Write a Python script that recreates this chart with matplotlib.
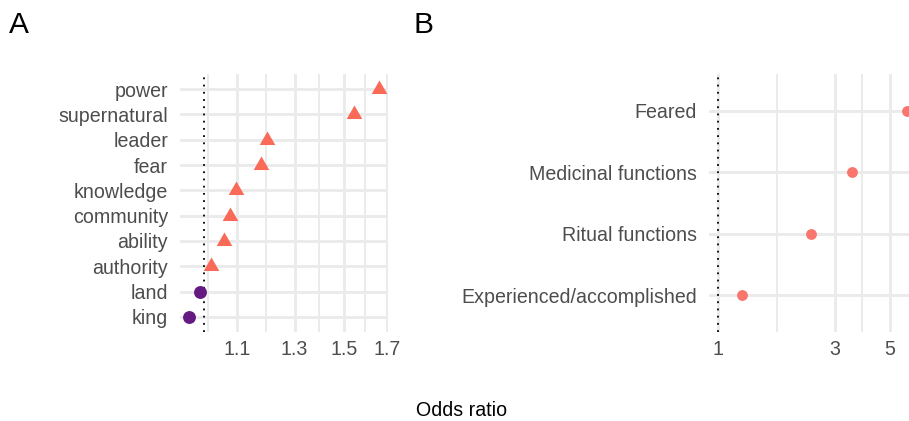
import numpy as np
import matplotlib
matplotlib.use("Agg")
import matplotlib.pyplot as plt
from matplotlib.ticker import FixedLocator, NullFormatter, FixedFormatter

plt.rcParams['font.family'] = ['Liberation Sans', 'DejaVu Sans']

# Panel A: word-level odds ratios (bottom to top)
words = ['king', 'land', 'authority', 'ability', 'community',
         'knowledge', 'fear', 'leader', 'supernatural', 'power']
word_or = [0.958, 0.987, 1.020, 1.058, 1.079, 1.097, 1.179, 1.200, 1.547, 1.659]
a_ticks = [1.1, 1.3, 1.5, 1.7]
a_tick_labels = ['1.1', '1.3', '1.5', '1.7']

# Panel B: trait odds ratios (bottom to top)
traits = ['Experienced/accomplished', 'Ritual functions',
          'Medicinal functions', 'Feared']
trait_or = [1.25, 2.39, 3.50, 5.87]
b_ticks = [1, 3, 5]
b_tick_labels = ['1', '3', '5']

W, H = 909, 421
fig = plt.figure(figsize=(W / 100, H / 100), dpi=100)

grid_col = '#EBEBEB'
txt_col = '#4D4D4D'
up_col = '#F96B58'
down_col = '#641A80'
b_col = '#F8766D'

# equilateral triangle, centred on centroid (like ggplot shape 17)
tri = [(0, 0.577), (-0.5, -0.289), (0.5, -0.289), (0, 0.577)]


def log_limits(vals, ref=None):
    lv = np.log(np.array(vals, dtype=float))
    lo, hi = lv.min(), lv.max()
    if ref is not None:
        lo, hi = min(lo, np.log(ref)), max(hi, np.log(ref))
    pad = 0.05 * (hi - lo)
    return np.exp(lo - pad), np.exp(hi + pad)


def minor_breaks(major, lims):
    lm = np.log(major)
    mids = list((lm[:-1] + lm[1:]) / 2)
    d0 = (lm[1] - lm[0]) / 2
    d1 = (lm[-1] - lm[-2]) / 2
    mids = [lm[0] - d0] + mids + [lm[-1] + d1]
    return [np.exp(m) for m in mids if np.log(lims[0]) <= m <= np.log(lims[1])]


def style(ax, ticks, labels, lims, ylabels):
    ax.set_xscale('log')
    ax.set_xlim(*lims)
    ax.xaxis.set_major_locator(FixedLocator(ticks))
    ax.xaxis.set_major_formatter(FixedFormatter(labels))
    ax.xaxis.set_minor_locator(FixedLocator(minor_breaks(ticks, lims)))
    ax.xaxis.set_minor_formatter(NullFormatter())
    ax.set_yticks(range(1, len(ylabels) + 1))
    ax.set_yticklabels(ylabels)
    ax.set_ylim(0.4, len(ylabels) + 0.6)
    for s in ax.spines.values():
        s.set_visible(False)
    ax.tick_params(which='both', length=0, labelsize=14.1, labelcolor=txt_col)
    ax.tick_params(axis='y', pad=8.5)
    ax.tick_params(axis='x', pad=5.5)
    ax.grid(True, which='major', color=grid_col, linewidth=2.1)
    ax.grid(True, which='minor', axis='x', color=grid_col, linewidth=1.4)
    ax.set_axisbelow(True)


# ---- panel A
axA = fig.add_axes([180 / W, 1 - 332 / H, 208 / W, 258 / H])
ya = np.arange(1, len(words) + 1)
vals = np.array(word_or)
up = vals > 1
axA.axvline(1, color='black', linestyle=(0, (1, 3)), linewidth=1.3, zorder=2)
axA.plot(vals[up], ya[up], linestyle='none', marker=tri, markersize=13,
         color=up_col, markeredgewidth=0, zorder=3)
axA.plot(vals[~up], ya[~up], linestyle='none', marker='o', markersize=9.3,
         color=down_col, markeredgewidth=0, zorder=3)
style(axA, a_ticks, a_tick_labels, log_limits(word_or), words)

# ---- panel B (runs past the right edge of the figure, as in the reference)
limsB = log_limits(trait_or, ref=1)
axB = fig.add_axes([709 / W, 1 - 332 / H, 207 / W, 258 / H])
yb = np.arange(1, len(traits) + 1)
axB.axvline(1, color='black', linestyle=(0, (1, 3)), linewidth=1.3, zorder=2)
axB.plot(trait_or, yb, linestyle='none', marker='o', markersize=7.8,
         color=b_col, markeredgewidth=0, zorder=3, clip_on=False)
style(axB, b_ticks, b_tick_labels, limsB, traits)

fig.text(9 / W, 1 - 33 / H, 'A', fontsize=21.5, color='black')
fig.text(414 / W, 1 - 33 / H, 'B', fontsize=21.5, color='black')
fig.text(462 / W, 1 - 411 / H, 'Odds ratio', fontsize=14.1, color='black',
         ha='center', va='center')

fig.savefig('out.png', dpi=100)
